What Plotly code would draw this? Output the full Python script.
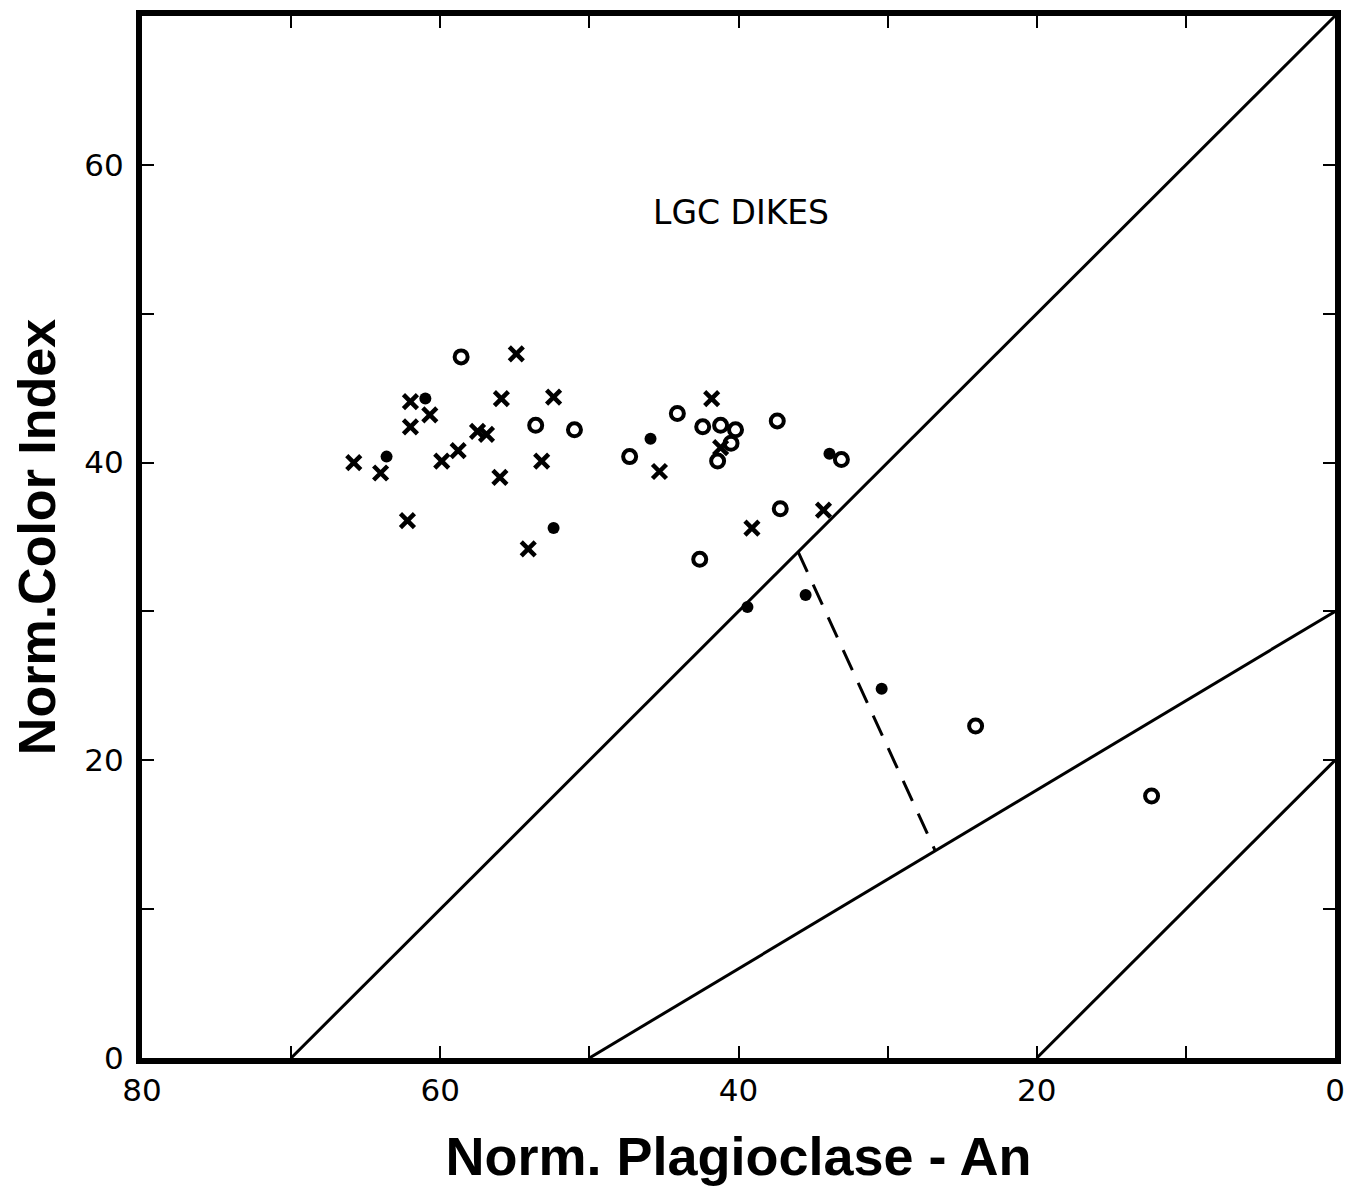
import plotly.graph_objects as go

# --- data ------------------------------------------------------------------
# crosses (x)
cross_an = [65.8, 64.0, 62.2, 62.0, 62.0, 60.7, 59.9, 58.8, 57.5, 56.9, 56.0,
            55.9, 54.9, 54.1, 53.2, 52.4, 45.3, 41.8, 41.2, 39.1, 34.3]
cross_ci = [40.0, 39.3, 36.1, 44.1, 42.4, 43.2, 40.1, 40.8, 42.1, 41.9, 39.0,
            44.3, 47.3, 34.2, 40.1, 44.4, 39.4, 44.3, 41.0, 35.6, 36.8]

# open circles
open_an = [58.6, 53.6, 51.0, 47.3, 44.1, 42.4, 41.2, 40.2, 40.5, 41.4, 37.4,
           33.1, 37.2, 42.6, 24.1, 12.3]
open_ci = [47.1, 42.5, 42.2, 40.4, 43.3, 42.4, 42.5, 42.2, 41.3, 40.1, 42.8,
           40.2, 36.9, 33.5, 22.3, 17.6]

# filled dots
dot_an = [61.0, 63.6, 52.4, 45.9, 33.9, 39.4, 35.5, 30.4]
dot_ci = [44.3, 40.4, 35.6, 41.6, 40.6, 30.3, 31.1, 24.8]

# boundary lines (An, CI end points)
line1_an, line1_ci = [70, 0], [0, 70]
line2_an, line2_ci = [50, 0], [0, 30]
line3_an, line3_ci = [20, 0], [0, 20]
tie_an, tie_ci = [36.0, 26.8], [34.0, 13.9]

tick_vals = [0, 10, 20, 30, 40, 50, 60, 70, 80]
x_tick_text = ["0", "", "20", "", "40", "", "60", "", "80"]
y_tick_vals = [0, 10, 20, 30, 40, 50, 60]
y_tick_text = ["0", "", "20", "", "40", "", "60"]

INK = "black"
LABEL_FONT = "DejaVu Sans, Liberation Sans, Arial"
TITLE_FONT = "Liberation Sans Narrow, Arial Narrow, Liberation Sans"

fig = go.Figure()

for xs, ys in [(line1_an, line1_ci), (line2_an, line2_ci), (line3_an, line3_ci)]:
    fig.add_trace(go.Scatter(x=xs, y=ys, mode="lines",
                             line=dict(color=INK, width=3), showlegend=False))

fig.add_trace(go.Scatter(x=tie_an, y=tie_ci, mode="lines",
                         line=dict(color=INK, width=3, dash="22px,14px"),
                         showlegend=False))

fig.add_trace(go.Scatter(
    x=cross_an, y=cross_ci, mode="markers", showlegend=False,
    marker=dict(symbol="x-thin", size=14, line=dict(color=INK, width=4.5)),
))
fig.add_trace(go.Scatter(
    x=open_an, y=open_ci, mode="markers", showlegend=False,
    marker=dict(symbol="circle-open", size=13, color=INK, line=dict(width=4)),
))
fig.add_trace(go.Scatter(
    x=dot_an, y=dot_ci, mode="markers", showlegend=False,
    marker=dict(symbol="circle", size=12, color=INK),
))

fig.add_annotation(x=39.8, y=56.8, text="LGC DIKES", showarrow=False,
                   font=dict(family=LABEL_FONT, size=33, color=INK))

axis_common = dict(
    showgrid=False, zeroline=False,
    showline=True, linecolor=INK, linewidth=6, mirror="ticks",
    ticks="inside", ticklen=12, tickwidth=2, tickcolor=INK,
    tickfont=dict(family=LABEL_FONT, size=31, color=INK),
)

fig.update_xaxes(
    range=[80, 0], tickmode="array", tickvals=tick_vals, ticktext=x_tick_text,
    title=dict(text="Norm. Plagioclase - An", standoff=32,
               font=dict(family=TITLE_FONT, size=54, color=INK, weight="bold")),
    **axis_common,
)
fig.update_yaxes(
    range=[0, 70], tickmode="array", tickvals=y_tick_vals, ticktext=y_tick_text,
    ticklabelstandoff=6,
    title=dict(text="Norm.Color Index", standoff=30,
               font=dict(family=TITLE_FONT, size=52, color=INK, weight="bold")),
    **axis_common,
)

# page body adds an 8px offset, so the figure is 8px smaller than the window
fig.update_layout(
    width=1347, height=1181,
    margin=dict(l=134, r=20, t=2, b=131),
    plot_bgcolor="white", paper_bgcolor="white",
)

fig.write_html("out.html")
